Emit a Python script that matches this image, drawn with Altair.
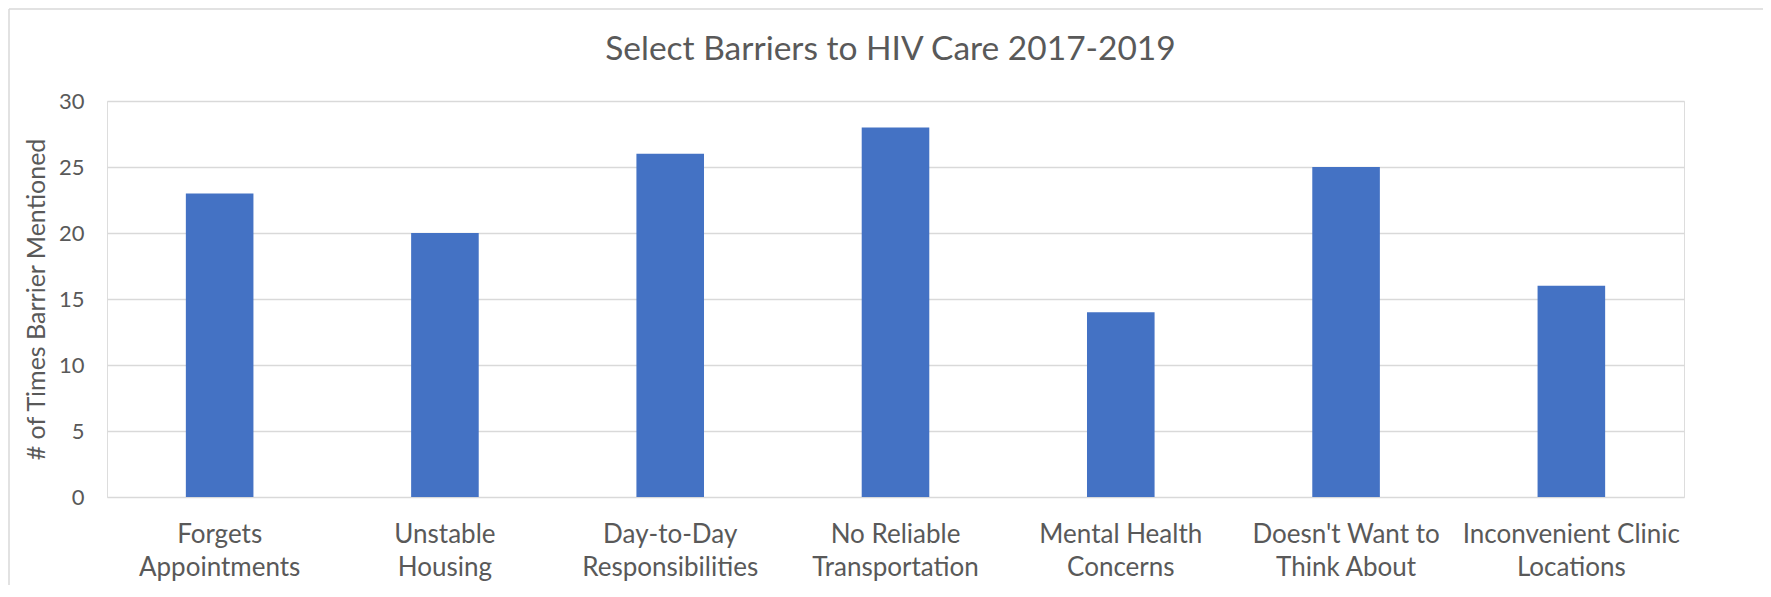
import altair as alt
import pandas as pd

title_text = ["Select Barriers to HIV Care 2017-2019"]
categories = [
    "Forgets\nAppointments",
    "Unstable\nHousing",
    "Day-to-Day\nResponsibilities",
    "No Reliable\nTransportation",
    "Mental Health\nConcerns",
    "Doesn't Want to\nThink About",
    "Inconvenient Clinic\nLocations",
]
counts = [23, 20, 26, 28, 14, 25, 16]
y_ticks = [0, 5, 10, 15, 20, 25, 30]

df = pd.DataFrame({"barrier": categories, "count": counts})

FONT = "Lato"
TEXT = "#595959"
GRID = "#D9D9D9"
PW, PH = 1577, 396

bars = alt.Chart(df).mark_bar(color="#4472C4").encode(
    x=alt.X(
        "barrier:N",
        sort=None,
        scale=alt.Scale(paddingInner=0.7, paddingOuter=0.35),
        axis=alt.Axis(
            title=None,
            labelAngle=0,
            labelExpr="split(datum.label, '\\n')",
            labelFont=FONT,
            labelFontSize=26,
            labelColor=TEXT,
            labelLineHeight=33,
            labelPadding=24,
            ticks=False,
            tickSize=0,
            domain=False,
            grid=False,
            labelLimit=400,
        ),
    ),
    y=alt.Y(
        "count:Q",
        scale=alt.Scale(domain=[0, 30], nice=False),
        axis=alt.Axis(
            title="# of Times Barrier Mentioned",
            values=y_ticks,
            labelFont=FONT,
            labelFontSize=22,
            labelColor=TEXT,
            labelPadding=23,
            ticks=False,
            tickSize=0,
            domain=False,
            grid=True,
            gridColor=GRID,
            gridWidth=1.5,
            titleFont=FONT,
            titleFontSize=25,
            titleFontWeight="normal",
            titleColor=TEXT,
            titleX=-71,
            titleY=PH / 2,
            titleAngle=270,
            titleAlign="center",
            titleBaseline="middle",
        ),
    ),
)

title = alt.Chart(pd.DataFrame({"t": title_text})).mark_text(
    font=FONT, fontSize=33.5, color=TEXT, align="center", baseline="alphabetic"
).encode(
    text="t:N",
    x=alt.value(PW / 2 - 5),
    y=alt.value(-41),
)

edge = pd.DataFrame({"k": [0]})
left_rule = alt.Chart(edge).mark_rule(color=GRID, strokeWidth=1.5).encode(
    x=alt.value(-98), y=alt.value(-92), y2=alt.value(PH + 200)
)
top_rule = alt.Chart(edge).mark_rule(color=GRID, strokeWidth=1.5).encode(
    y=alt.value(-92), x=alt.value(-98), x2=alt.value(PW + 200)
)

chart = alt.layer(left_rule, top_rule, bars, title).properties(
    width=PW,
    height=PH,
    autosize=alt.AutoSizeParams(type="none"),
    padding={"left": 99, "top": 93, "right": 79, "bottom": 88},
).configure_view(stroke=None).configure(background="white")

chart.save("out.html", embed_options={"renderer": "svg", "actions": False})
